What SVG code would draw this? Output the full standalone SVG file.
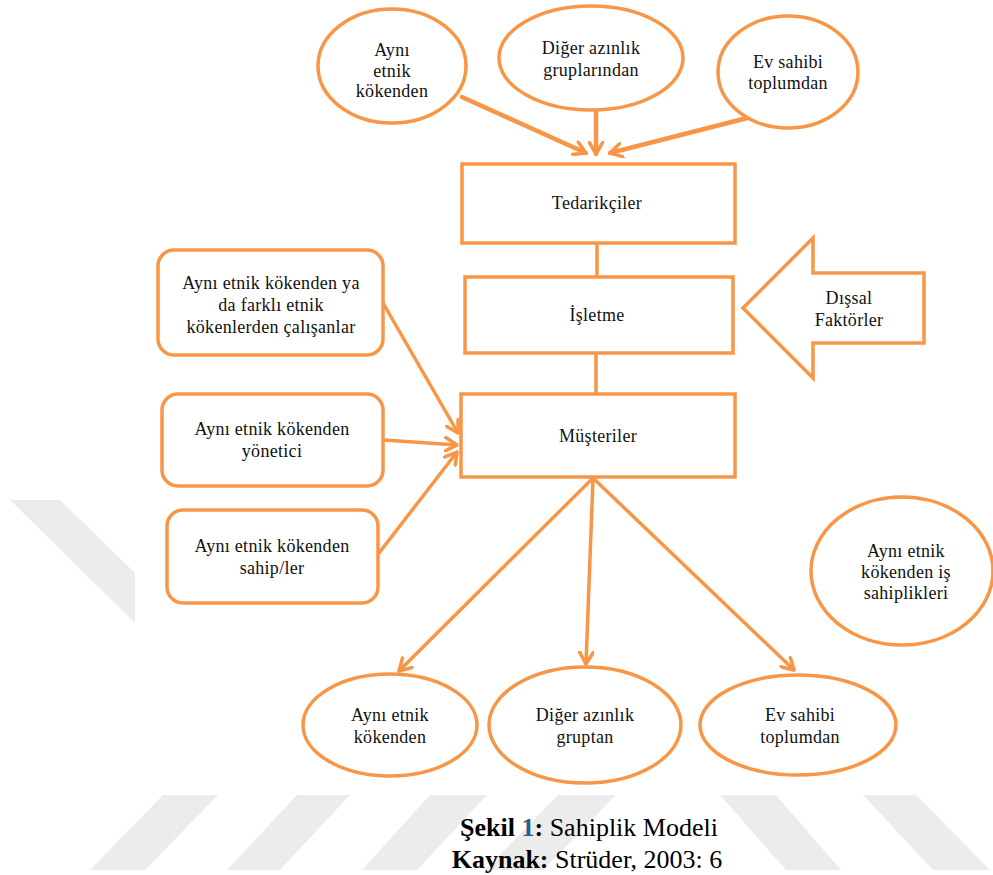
<svg xmlns="http://www.w3.org/2000/svg" width="993" height="875" viewBox="0 0 993 875">
<defs>
<style>
.shape{fill:#fff;stroke:#F79646;stroke-width:3.5}
.wm{fill:#ececec}
.t{font-family:"Liberation Serif","Times New Roman",serif;font-size:18px;fill:#111;text-anchor:middle;letter-spacing:0.3px}
.ln{fill:none;stroke:#F79646;stroke-width:3.5;stroke-linecap:round}
.thick{stroke-width:4.5}
.cap{font-family:"Liberation Serif","Times New Roman",serif;font-size:26px;fill:#000;text-anchor:middle}
</style>
<marker id="ah" viewBox="0 0 14 16" refX="13" refY="8" markerWidth="14" markerHeight="16" markerUnits="userSpaceOnUse" orient="auto">
<path d="M1,1 L13,8 L1,15" fill="none" stroke="#F79646" stroke-width="3.5" stroke-linecap="round" stroke-linejoin="round"/>
</marker>
</defs>
<rect width="993" height="875" fill="#fff"/>
<g id="watermark">
<polygon class="wm" points="10,500 60,500 135,573 135,623"/>
<polygon class="wm" points="163,795 218,795 145,870 90,870"/>
<polygon class="wm" points="297,795 350,795 280,870 227,870"/>
<polygon class="wm" points="430,795 487,795 417,870 362,870"/>
<polygon class="wm" points="558,795 616,795 543,870 485,870"/>
<polygon class="wm" points="720,795 776,795 841,870 786,870"/>
<polygon class="wm" points="863,795 916,795 990,870 933,870"/>
</g>
<g id="connectors">
<line class="ln thick" x1="462" y1="97" x2="586" y2="153" marker-end="url(#ah)"/>
<line class="ln thick" x1="596" y1="111" x2="596" y2="154" marker-end="url(#ah)"/>
<line class="ln thick" x1="759" y1="115" x2="610" y2="153" marker-end="url(#ah)"/>
<line class="ln" x1="597" y1="243" x2="597" y2="277"/>
<line class="ln" x1="596" y1="353" x2="596" y2="392"/>
<line class="ln" x1="383" y1="303" x2="458" y2="433" marker-end="url(#ah)"/>
<line class="ln" x1="384" y1="440" x2="457" y2="445" marker-end="url(#ah)"/>
<line class="ln" x1="379" y1="553" x2="457" y2="452" marker-end="url(#ah)"/>
<line class="ln" x1="592" y1="479" x2="399" y2="671" marker-end="url(#ah)"/>
<line class="ln" x1="593" y1="479" x2="586" y2="664" marker-end="url(#ah)"/>
<line class="ln" x1="594" y1="479" x2="794" y2="670" marker-end="url(#ah)"/>
</g>
<g id="n_ayni_top"><ellipse class="shape" cx="392" cy="66" rx="74" ry="57"/>
<text class="t" x="392" y="56">Aynı</text><text class="t" x="392" y="77">etnik</text><text class="t" x="392" y="97">kökenden</text></g>
<g id="n_diger_top"><ellipse class="shape" cx="591" cy="58" rx="92" ry="52"/>
<text class="t" x="591" y="54">Diğer azınlık</text><text class="t" x="591" y="76">gruplarından</text></g>
<g id="n_ev_top"><ellipse class="shape" cx="788" cy="72" rx="70" ry="56"/>
<text class="t" x="788" y="68">Ev sahibi</text><text class="t" x="788" y="89">toplumdan</text></g>
<g id="n_tedarik"><rect class="shape" x="462" y="164" width="273" height="79"/>
<text class="t" x="597" y="209">Tedarikçiler</text></g>
<g id="n_isletme"><rect class="shape" x="465" y="277" width="268" height="76"/>
<text class="t" x="597" y="321">İşletme</text></g>
<g id="n_dissal"><polygon class="shape" points="743,308 813,238 813,273 924,273 924,343 813,343 813,378"/>
<text class="t" x="849" y="304">Dışsal</text><text class="t" x="849" y="326">Faktörler</text></g>
<g id="n_musteri"><rect class="shape" x="461" y="394" width="274" height="83"/>
<text class="t" x="598" y="442">Müşteriler</text></g>
<g id="n_calisan"><rect class="shape" x="158" y="250" width="225" height="105" rx="16"/>
<text class="t" x="271" y="289">Aynı etnik kökenden ya</text><text class="t" x="271" y="311">da farklı etnik</text><text class="t" x="271" y="333">kökenlerden çalışanlar</text></g>
<g id="n_yonetici"><rect class="shape" x="162" y="394" width="221" height="92" rx="16"/>
<text class="t" x="272" y="435">Aynı etnik kökenden</text><text class="t" x="272" y="457">yönetici</text></g>
<g id="n_sahip"><rect class="shape" x="167" y="510" width="211" height="93" rx="16"/>
<text class="t" x="272" y="552">Aynı etnik kökenden</text><text class="t" x="272" y="574">sahip/ler</text></g>
<g id="n_is_sahip"><ellipse class="shape" cx="902" cy="571" rx="91" ry="74"/>
<text class="t" x="906" y="557">Aynı etnik</text><text class="t" x="906" y="578">kökenden iş</text><text class="t" x="906" y="599">sahiplikleri</text></g>
<g id="n_ayni_bot"><ellipse class="shape" cx="390" cy="725" rx="87" ry="51"/>
<text class="t" x="390" y="721">Aynı etnik</text><text class="t" x="390" y="743">kökenden</text></g>
<g id="n_diger_bot"><ellipse class="shape" cx="585" cy="725" rx="96" ry="58"/>
<text class="t" x="585" y="721">Diğer azınlık</text><text class="t" x="585" y="743">gruptan</text></g>
<g id="n_ev_bot"><ellipse class="shape" cx="798" cy="725" rx="98" ry="50"/>
<text class="t" x="800" y="721">Ev sahibi</text><text class="t" x="800" y="743">toplumdan</text></g>
<g id="caption">
<text class="cap" x="589" y="836"><tspan font-weight="bold">Şekil </tspan><tspan font-weight="bold" fill="#2E5C8A">1</tspan><tspan font-weight="bold">:</tspan> Sahiplik Modeli</text>
<text class="cap" x="587" y="868"><tspan font-weight="bold">Kaynak:</tspan> Strüder, 2003: 6</text>
</g>
</svg>
